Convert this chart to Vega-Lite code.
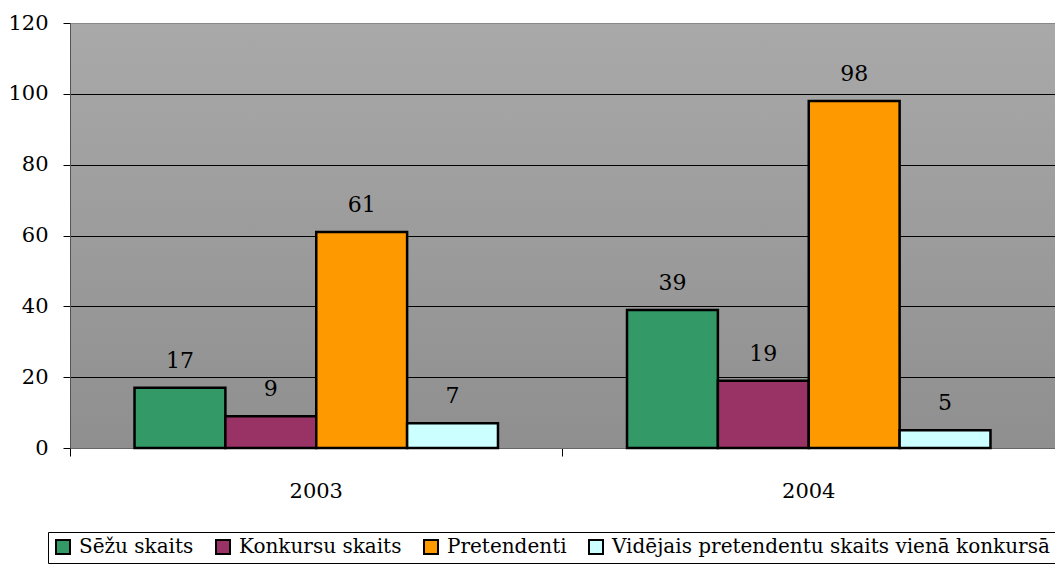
{
  "$schema": "https://vega.github.io/schema/vega-lite/v6.json",
  "width": 985,
  "height": 425,
  "padding": {"left": 7, "top": 12, "right": 0, "bottom": 0},
  "background": "white",
  "data": {
    "values": [
      {"year": "2003", "series": "Sēžu skaits", "value": 17},
      {"year": "2003", "series": "Konkursu skaits", "value": 9},
      {"year": "2003", "series": "Pretendenti", "value": 61},
      {"year": "2003", "series": "Vidējais pretendentu skaits vienā konkursā", "value": 7},
      {"year": "2004", "series": "Sēžu skaits", "value": 39},
      {"year": "2004", "series": "Konkursu skaits", "value": 19},
      {"year": "2004", "series": "Pretendenti", "value": 98},
      {"year": "2004", "series": "Vidējais pretendentu skaits vienā konkursā", "value": 5}
    ]
  },
  "encoding": {
    "x": {
      "field": "year",
      "type": "nominal",
      "scale": {"paddingInner": 0, "paddingOuter": 0},
      "axis": {
        "title": null,
        "labelAngle": 0,
        "bandPosition": 0,
        "labelPadding": 24,
        "tickSize": 8,
        "tickColor": "black",
        "domainColor": "#666666",
        "grid": false
      }
    },
    "xOffset": {
      "field": "series",
      "type": "nominal",
      "sort": ["Sēžu skaits", "Konkursu skaits", "Pretendenti", "Vidējais pretendentu skaits vienā konkursā"],
      "scale": {"paddingInner": 0, "paddingOuter": 0.71}
    },
    "y": {
      "field": "value",
      "type": "quantitative",
      "scale": {"domain": [0, 120], "nice": false},
      "axis": {
        "title": null,
        "values": [0, 20, 40, 60, 80, 100, 120],
        "grid": true,
        "gridColor": {"condition": {"test": "datum.value === 120", "value": "#888888"}, "value": "black"},
        "gridWidth": 1,
        "gridOpacity": 1,
        "domainColor": "#555555",
        "tickColor": "black",
        "tickSize": 7,
        "labelPadding": 15
      }
    }
  },
  "layer": [
    {
      "mark": {"type": "bar", "stroke": "black", "strokeWidth": 2.5},
      "encoding": {
        "color": {
          "field": "series",
          "type": "nominal",
          "scale": {
            "domain": ["Sēžu skaits", "Konkursu skaits", "Pretendenti", "Vidējais pretendentu skaits vienā konkursā"],
            "range": ["#339966", "#993366", "#FF9900", "#CCFFFF"]
          },
          "legend": {
            "title": null,
            "orient": "none",
            "legendX": -22,
            "legendY": 509,
            "direction": "horizontal",
            "columns": 4,
            "symbolType": "square",
            "symbolSize": 196,
            "symbolStrokeColor": "black",
            "symbolStrokeWidth": 2,
            "symbolOpacity": 1,
            "labelOffset": 6,
            "labelLimit": 600,
            "columnPadding": 18,
            "strokeColor": "black",
            "padding": 5,
            "fillColor": "white"
          }
        }
      }
    },
    {
      "mark": {"type": "text", "fontSize": 22, "color": "black", "baseline": "alphabetic", "dy": -20},
      "encoding": {
        "text": {"field": "value", "type": "quantitative"}
      }
    }
  ],
  "config": {
    "font": "DejaVu Serif",
    "text": {"font": "DejaVu Serif"},
    "axis": {"labelFont": "DejaVu Serif", "labelFontSize": 21, "labelColor": "black"},
    "legend": {"labelFont": "DejaVu Serif", "labelFontSize": 20, "labelColor": "black"},
    "view": {
      "stroke": null,
      "fill": {
        "gradient": "linear",
        "x1": 0, "y1": 0, "x2": 0, "y2": 1,
        "stops": [
          {"offset": 0, "color": "#a9a9a9"},
          {"offset": 1, "color": "#8f8f8f"}
        ]
      }
    }
  }
}
